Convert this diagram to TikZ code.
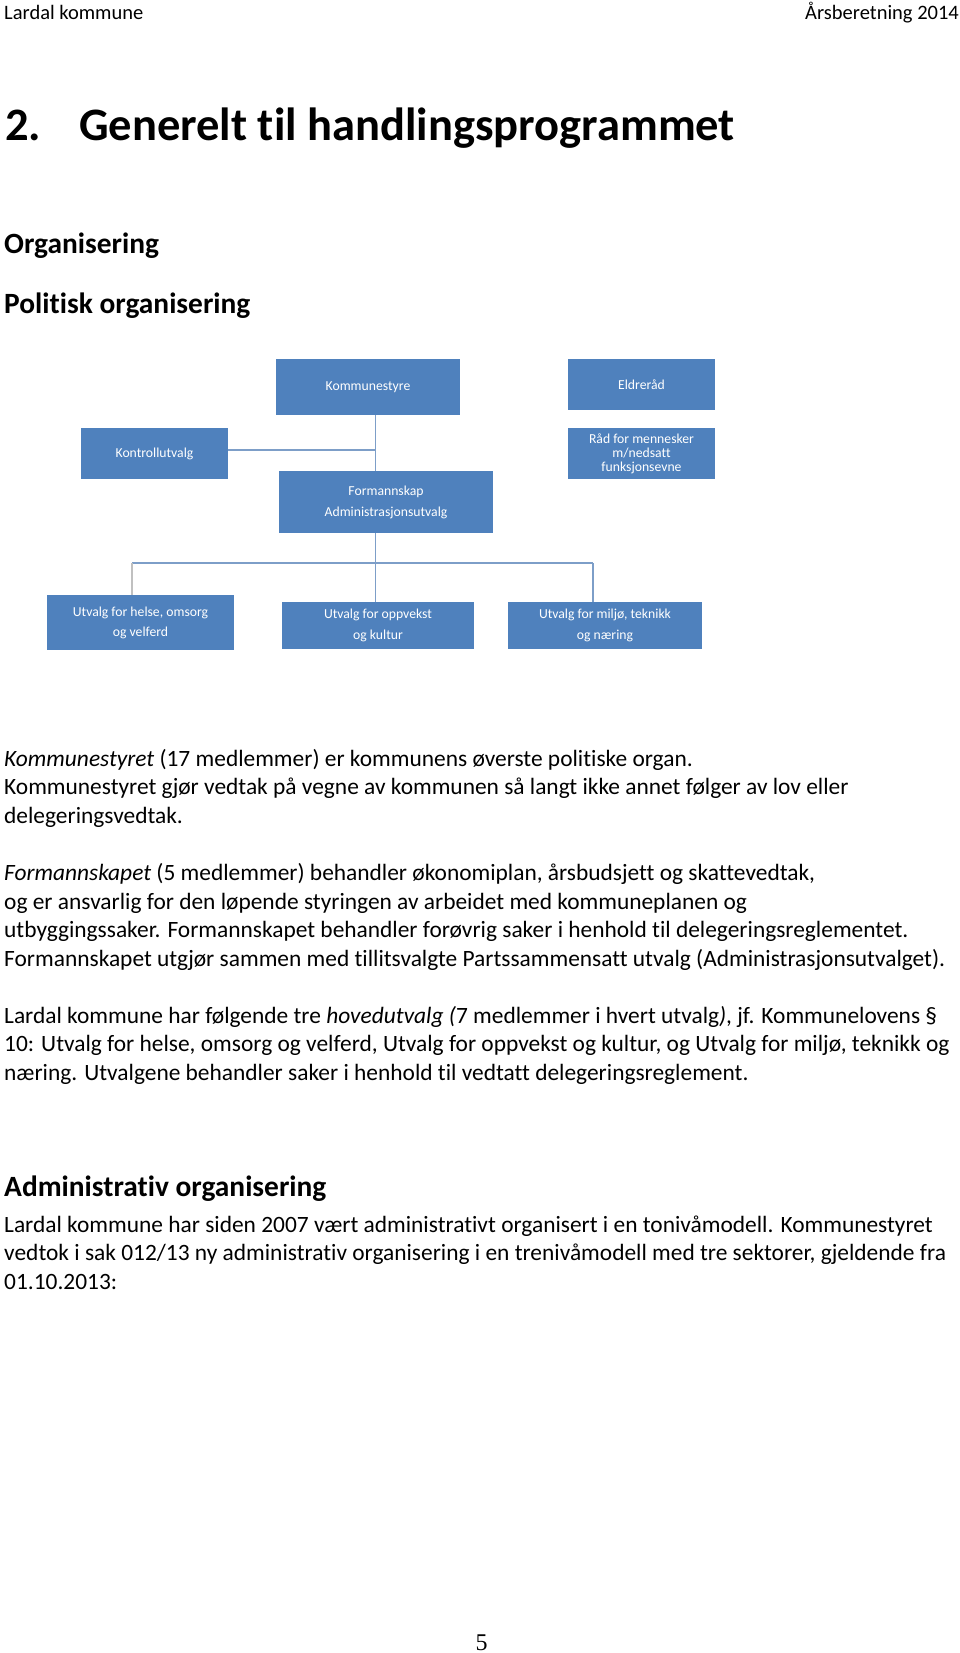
\documentclass[tikz,border=0pt]{standalone}
\usepackage{fontspec}
\setmainfont{Carlito}[Ligatures={NoCommon,NoContextual}]
\newfontfamily\pgnumfont{Liberation Serif}
\definecolor{boxblue}{RGB}{79,129,189}
\definecolor{lineblue}{RGB}{125,158,200}
\definecolor{linegray}{RGB}{192,192,192}
\begin{document}
\begin{tikzpicture}[x=1pt,y=-1pt,
  orgbox/.style={fill=boxblue,draw=none,text=white,align=center,inner sep=0pt,
    font=\fontsize{13.7}{21}\selectfont},
  conn/.style={draw=lineblue,line width=1.2pt},
  conngray/.style={draw=linegray,line width=1.2pt},
  bodyline/.style={anchor=base west,inner sep=0pt,font=\fontsize{23.4}{28}\selectfont},
  headline/.style={anchor=base west,inner sep=0pt,font=\fontsize{29.4}{34}\selectfont\bfseries},
  hdr/.style={inner sep=0pt,font=\fontsize{20.5}{24}\selectfont}]
\useasboundingbox (0,0) rectangle (960,1653);

% header
\node[hdr,anchor=base west] (hl) at (4,20) {Lardal kommune};
\node[hdr,anchor=base east] (hr) at (959,20) {Årsberetning 2014};

% title
\node[anchor=base west,inner sep=0pt,font=\fontsize{46.5}{50}\selectfont\bfseries] (tnum) at (5,141) {2.};
\node[anchor=base west,inner sep=0pt,font=\fontsize{46.5}{50}\selectfont\bfseries] (ttl) at (79,141) {Generelt til handlingsprogrammet};

\node[headline] (h1) at (4,254) {Organisering};
\node[headline] (h2) at (4,313) {Politisk organisering};

% org chart
\node[orgbox,minimum width=184pt,minimum height=56pt] (kst) at (368,387) {Kommunestyre};
\node[orgbox,minimum width=147pt,minimum height=51pt] (eld) at (641.5,384.5) {Eldreråd};
\node[orgbox,minimum width=147pt,minimum height=51pt] (kon) at (154.5,453.5) {Kontrollutvalg};
\node[orgbox,minimum width=147pt,minimum height=51pt,font=\fontsize{13.7}{14}\selectfont] (rad) at (641.5,453.5) {Råd for mennesker\\m/nedsatt\\funksjonsevne};
\node[orgbox,minimum width=214pt,minimum height=62pt] (for) at (386,502) {Formannskap\\Administrasjonsutvalg};
\node[orgbox,minimum width=187pt,minimum height=55pt,font=\fontsize{13.7}{20}\selectfont] (hel) at (140.5,622.5) {Utvalg for helse, omsorg\\og velferd};
\node[orgbox,minimum width=192pt,minimum height=47pt] (opp) at (378,625.5) {Utvalg for oppvekst\\og kultur};
\node[orgbox,minimum width=194pt,minimum height=47pt] (mil) at (605,625.5) {Utvalg for miljø, teknikk\\og næring};

\coordinate (vx) at (375.7,0);
\coordinate (j1) at (132,563);
\coordinate (j2) at (375.7,563);
\coordinate (j3) at (593,563);

\draw[conn] (kst.south -| vx) -- (for.north -| vx);
\draw[conn] ([yshift=3.5pt]kon.east) -- ([yshift=3.5pt]kon.east -| vx);
\draw[conn] (for.south -| vx) -- (j2);
\draw[conn] (j1) -- (j3);
\draw[conngray] (j1) -- (hel.north -| j1);
\draw[conn] (j2) -- (opp.north -| j2);
\draw[conn] (j3) -- (mil.north -| j3);

% body text
\node[bodyline] (p1a) at (4,766) {\textit{Kommunestyret} (17 medlemmer) er kommunens øverste politiske organ.};
\node[bodyline] (p1b) at (4,794.5) {Kommunestyret gjør vedtak på vegne av kommunen så langt ikke annet følger av lov eller};
\node[bodyline] (p1c) at (4,823) {delegeringsvedtak.};

\node[bodyline] (p2a) at (4,880.5) {\textit{Formannskapet} (5 medlemmer) behandler økonomiplan, årsbudsjett og skattevedtak,};
\node[bodyline] (p2b) at (4,909) {og er ansvarlig for den løpende styringen av arbeidet med kommuneplanen og};
\node[bodyline] (p2c) at (4,937.5) {utbyggingssaker. Formannskapet behandler forøvrig saker i henhold til delegeringsreglementet.};
\node[bodyline] (p2d) at (4,966) {Formannskapet utgjør sammen med tillitsvalgte Partssammensatt utvalg (Administrasjonsutvalget).};

\node[bodyline] (p3a) at (4,1023) {Lardal kommune har følgende tre \textit{hovedutvalg (}7 medlemmer i hvert utvalg\textit{)}, jf. Kommunelovens §};
\node[bodyline] (p3b) at (4,1051.5) {10: Utvalg for helse, omsorg og velferd, Utvalg for oppvekst og kultur, og Utvalg for miljø, teknikk og};
\node[bodyline] (p3c) at (4,1080) {næring. Utvalgene behandler saker i henhold til vedtatt delegeringsreglement.};

\node[headline] (h3) at (4,1196) {Administrativ organisering};

\node[bodyline] (p4a) at (4,1232) {Lardal kommune har siden 2007 vært administrativt organisert i en tonivåmodell. Kommunestyret};
\node[bodyline] (p4b) at (4,1260.5) {vedtok i sak 012/13 ny administrativ organisering i en trenivåmodell med tre sektorer, gjeldende fra};
\node[bodyline] (p4c) at (4,1289) {01.10.2013:};

% page number
\node[anchor=base,inner sep=0pt,font=\pgnumfont\fontsize{24}{26}\selectfont] (pg) at (481.5,1650) {5};
\end{tikzpicture}
\end{document}
